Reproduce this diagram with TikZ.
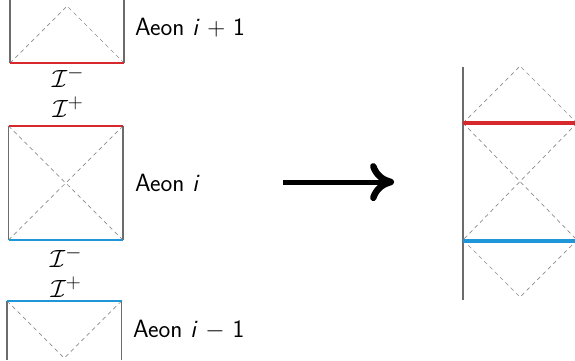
\documentclass[tikz,border=0pt]{standalone}
\usetikzlibrary{arrows.meta}
\definecolor{aeonred}{RGB}{214,40,45}
\definecolor{aeonblue}{RGB}{30,150,215}
\begin{document}
\begin{tikzpicture}[x=1pt,y=-1pt,
 wall/.style={draw=gray!85!black, line width=1.1pt},
 nullray/.style={draw=gray!90, line width=0.7pt, dash pattern=on 4pt off 3.5pt},
 redscri/.style={draw=aeonred, line width=2.5pt},
 bluescri/.style={draw=aeonblue, line width=2.5pt},
 lbl/.style={font=\fontsize{25}{29}\selectfont\sffamily, anchor=west, inner sep=0pt},
 scri/.style={font=\fontsize{29}{33}\selectfont, inner sep=0pt}]
\useasboundingbox (0,0) rectangle (575,360);
% top aeon
\draw[wall] (10,0) -- (10,63) (124,0) -- (124,63);
\draw[nullray] (10,63) -- (67,6) -- (124,63);
\draw[redscri] (10,63) -- (124,63);
\node[lbl] (up) at (135,28) {Aeon \textit{i} $+$ 1};
\node[scri] (sm1) at (68,77) {$\mathcal{I}^-$};
\node[scri] (sp1) at (68,107) {$\mathcal{I}^+$};
% middle aeon
\draw[wall] (8.5,126) -- (8.5,240) (123,126) -- (123,240);
\draw[nullray] (8.5,126) -- (123,240) (123,126) -- (8.5,240);
\draw[redscri] (8.5,126) -- (123,126);
\draw[bluescri] (8.5,240) -- (123,240);
\node[lbl] (mid) at (135,183) {Aeon \textit{i}};
\node[scri] (sm2) at (66,257) {$\mathcal{I}^-$};
\node[scri] (sp2) at (66,287) {$\mathcal{I}^+$};
% bottom aeon
\draw[wall] (7,301) -- (7,360) (121.5,301) -- (121.5,360);
\draw[nullray] (7,301) -- (64.25,358) -- (121.5,301);
\draw[bluescri] (7,301) -- (121.5,301);
\node[lbl] (low) at (133,330) {Aeon \textit{i} $-$ 1};
% arrow
\coordinate (a1) at (283,182);
\coordinate (a2) at (394,182);
\draw[line width=5pt, -{Computer Modern Rightarrow[length=24pt,width=38pt,line width=6.5pt]}] (a1) -- (a2);
% right diagram
\draw[wall] (463,67) -- (463,300);
\draw[nullray] (463,123) -- (520,66) -- (577,123);
\draw[nullray] (463,123) -- (577,240) (577,123) -- (463,240);
\draw[nullray] (463,240) -- (520,297) -- (577,240);
\draw[draw=aeonred, line width=4pt] (463,123) -- (577,123);
\draw[draw=aeonblue, line width=4.5pt] (463,241) -- (577,241);
\end{tikzpicture}
\end{document}
